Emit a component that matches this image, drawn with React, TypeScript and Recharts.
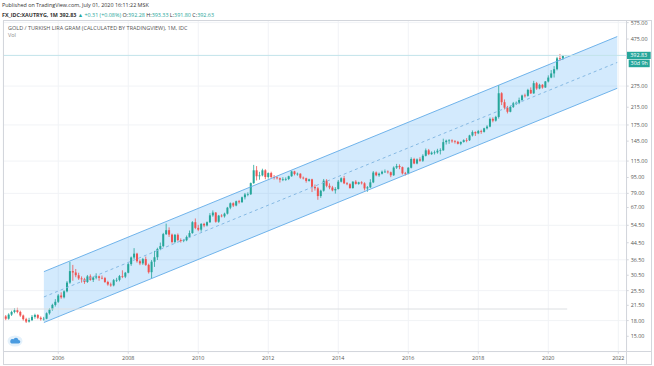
import React from 'react';
import { ComposedChart, Bar, Area, Line, XAxis, YAxis, CartesianGrid, ReferenceLine } from 'recharts';

// monthly candles, first one is July 2004
const START_YEAR = 2004;
const START_MONTH = 6;

const opens = [
  18.9, 18.4, 19.3, 19.9, 20.3, 19.9,
  19.1, 18.3, 17.8, 18.1, 18.8, 19.2, 18.6, 18.3, 18.4, 19.6, 20.5, 21.6,
  22.4, 24.1, 23.6, 25.3, 28.0, 32.0, 31.5, 30.5, 29.4, 29.1, 28.2, 30.1,
  28.9, 29.7, 30.1, 29.6, 29.5, 28.2, 27.4, 27.1, 28.8, 28.9, 30.2, 30.0,
  31.4, 34.7, 37.5, 39.2, 35.9, 35.0, 36.8, 34.4, 31.6, 35.7, 37.6, 41.4,
  42.8, 49.2, 51.5, 48.9, 44.9, 48.8, 45.9, 45.4, 45.8, 47.6, 49.8, 56.5,
  52.9, 51.8, 55.4, 54.4, 56.5, 61.2, 63.2, 56.8, 61.0, 60.5, 62.4, 66.9,
  70.4, 68.6, 72.1, 71.3, 75.5, 78.0, 78.2, 89.0, 103.3, 96.4, 97.4, 103.3,
  95.6, 100.0, 95.4, 95.1, 94.2, 92.7, 93.0, 93.4, 96.4, 102.0, 98.9, 99.3,
  94.8, 94.2, 91.3, 93.0, 85.2, 83.8, 76.6, 81.5, 91.6, 86.3, 84.6, 81.8,
  83.1, 90.5, 94.2, 88.8, 87.9, 84.0, 90.5, 88.2, 89.8, 88.8, 83.7, 84.8,
  89.8, 100.7, 97.5, 99.3, 101.6, 101.8, 101.0, 97.5, 106.6, 108.6, 107.2, 99.7,
  99.6, 106.4, 117.8, 111.8, 117.3, 115.5, 122.3, 130.3, 124.6, 126.9, 127.2, 129.8,
  130.3, 143.3, 145.8, 146.2, 144.7, 143.9, 140.6, 143.6, 146.6, 146.5, 154.9, 161.1,
  158.8, 163.0, 161.5, 168.3, 171.7, 187.8, 184.0, 192.1, 253.0, 228.0, 214.0, 204.0,
  216.0, 225.1, 226.3, 233.9, 246.5, 245.5, 263.0, 252.6, 284.4, 267.4, 279.1, 270.5,
  290.2, 303.6, 318.5, 334.7, 379.7, 379.4, 392.28,
];
const highs = [
  19.2, 19.6, 20.2, 20.8, 20.9, 20.2,
  19.3, 18.6, 18.6, 19.2, 19.5, 19.4, 18.9, 18.8, 19.8, 20.8, 21.9, 23.1,
  24.5, 25.0, 25.6, 28.5, 35.6, 34.4, 32.8, 31.4, 30.1, 29.6, 30.6, 30.8,
  30.1, 31.2, 30.4, 30.4, 29.9, 28.6, 28.0, 29.2, 29.6, 30.6, 32.3, 31.7,
  35.2, 37.9, 41.8, 39.6, 36.6, 37.3, 37.9, 34.9, 36.4, 40.5, 42.0, 44.6,
  49.9, 55.6, 53.2, 49.5, 49.3, 49.6, 46.8, 46.5, 48.4, 51.3, 57.2, 59.0,
  54.8, 55.9, 56.1, 57.0, 62.8, 64.8, 63.6, 61.5, 62.0, 63.1, 67.5, 71.1,
  71.2, 72.6, 73.2, 76.1, 79.4, 79.9, 89.6, 110.0, 108.5, 101.5, 105.2, 104.6,
  100.8, 101.6, 97.8, 96.2, 95.0, 95.3, 95.1, 97.0, 102.8, 102.7, 100.6, 99.8,
  96.1, 94.8, 93.7, 93.6, 87.6, 85.2, 82.4, 93.4, 93.2, 88.8, 86.2, 84.9,
  92.3, 95.2, 96.8, 90.1, 88.9, 91.0, 92.1, 90.4, 91.0, 89.9, 86.0, 93.1,
  102.4, 101.9, 100.6, 103.0, 104.3, 103.2, 101.8, 108.1, 111.3, 110.7, 107.9, 101.4,
  107.2, 120.1, 119.4, 118.6, 120.2, 124.5, 133.1, 132.4, 128.7, 130.0, 132.6, 133.4,
  149.2, 147.5, 148.4, 148.1, 146.8, 145.5, 144.5, 148.1, 150.2, 156.1, 164.2, 162.5,
  165.1, 165.6, 169.4, 174.5, 190.8, 191.2, 194.6, 278.0, 256.1, 235.4, 218.3, 219.2,
  228.7, 229.8, 240.5, 248.9, 251.8, 266.4, 270.8, 292.3, 288.6, 282.5, 281.3, 291.6,
  311.5, 331.2, 346.7, 386.2, 399.5, 394.8, 393.33,
];
const lows = [
  18.1, 18.2, 19.0, 19.6, 19.6, 18.8,
  18.0, 17.5, 17.6, 17.9, 18.4, 18.3, 18.0, 18.0, 18.3, 19.3, 20.2, 21.2,
  22.1, 23.2, 23.3, 25.0, 27.6, 28.6, 29.8, 28.9, 28.0, 27.6, 27.9, 28.6,
  28.2, 29.1, 28.6, 29.1, 27.9, 27.0, 26.7, 26.8, 28.2, 28.4, 29.5, 29.5,
  31.2, 34.0, 36.8, 35.3, 34.3, 34.4, 34.0, 31.1, 29.4, 33.6, 36.4, 40.8,
  42.2, 48.7, 47.6, 44.1, 44.2, 45.2, 44.6, 44.8, 45.3, 47.1, 49.4, 52.1,
  50.9, 50.6, 53.3, 53.8, 56.0, 60.2, 56.2, 56.1, 59.8, 59.6, 61.8, 65.7,
  67.4, 68.0, 70.1, 70.8, 73.6, 76.4, 77.5, 88.3, 91.8, 92.6, 96.3, 93.1,
  93.8, 94.6, 92.8, 92.9, 89.6, 91.1, 91.4, 92.2, 95.8, 97.4, 97.0, 93.6,
  92.9, 89.5, 90.6, 80.2, 81.6, 73.3, 75.0, 80.6, 84.8, 82.9, 80.9, 78.8,
  82.6, 89.7, 88.0, 86.9, 83.5, 83.5, 87.5, 87.3, 87.6, 81.8, 80.5, 84.1,
  89.0, 96.4, 95.8, 98.4, 100.2, 99.4, 95.4, 96.8, 104.9, 104.6, 98.4, 97.3,
  98.6, 105.6, 110.9, 110.8, 114.1, 113.9, 121.4, 123.2, 123.6, 124.1, 125.3, 124.2,
  129.6, 139.4, 140.5, 142.3, 141.0, 139.6, 138.3, 142.5, 143.1, 145.2, 153.1, 154.0,
  157.3, 157.9, 160.2, 166.1, 170.3, 180.4, 182.1, 188.4, 220.5, 209.6, 200.1, 202.7,
  213.2, 220.6, 222.8, 231.4, 240.7, 243.2, 251.1, 251.4, 263.3, 265.0, 266.8, 269.4,
  286.9, 301.3, 303.8, 330.1, 369.2, 372.6, 391.80,
];
const closes = [
  18.4, 19.3, 19.9, 20.3, 19.9, 19.1,
  18.3, 17.8, 18.1, 18.8, 19.2, 18.6, 18.3, 18.4, 19.6, 20.5, 21.6, 22.4,
  24.1, 23.6, 25.3, 28.0, 32.0, 31.5, 30.5, 29.4, 29.1, 28.2, 30.1, 28.9,
  29.7, 30.1, 29.6, 29.5, 28.2, 27.4, 27.1, 28.8, 28.9, 30.2, 30.0, 31.4,
  34.7, 37.5, 39.2, 35.9, 35.0, 36.8, 34.4, 31.6, 35.7, 37.6, 41.4, 42.8,
  49.2, 51.5, 48.9, 44.9, 48.8, 45.9, 45.4, 45.8, 47.6, 49.8, 56.5, 52.9,
  51.8, 55.4, 54.4, 56.5, 61.2, 63.2, 56.8, 61.0, 60.5, 62.4, 66.9, 70.4,
  68.6, 72.1, 71.3, 75.5, 78.0, 78.2, 89.0, 103.3, 96.4, 97.4, 103.3, 95.6,
  100.0, 95.4, 95.1, 94.2, 92.7, 93.0, 93.4, 96.4, 102.0, 98.9, 99.3, 94.8,
  94.2, 91.3, 93.0, 85.2, 83.8, 76.6, 81.5, 91.6, 86.3, 84.6, 81.8, 83.1,
  90.5, 94.2, 88.8, 87.9, 84.0, 90.5, 88.2, 89.8, 88.8, 83.7, 84.8, 89.8,
  100.7, 97.5, 99.3, 101.6, 101.8, 101.0, 97.5, 106.6, 108.6, 107.2, 99.7, 99.6,
  106.4, 117.8, 111.8, 117.3, 115.5, 122.3, 130.3, 124.6, 126.9, 127.2, 129.8, 130.3,
  143.3, 145.8, 146.2, 144.7, 143.9, 140.6, 143.6, 146.6, 146.5, 154.9, 161.1, 158.8,
  163.0, 161.5, 168.3, 171.7, 187.8, 184.0, 192.1, 253.0, 228.0, 214.0, 204.0, 216.0,
  225.1, 226.3, 233.9, 246.5, 245.5, 263.0, 252.6, 284.4, 267.4, 279.1, 270.5, 290.2,
  303.6, 318.5, 334.7, 379.7, 379.4, 392.3, 392.63,
];

// regression channel drawn on the chart (two anchor points)
const channelT = [2005.59, 2021.97];
const channelUpper = [31.8, 489];
const channelMid = [23.7, 362];
const channelLower = [17.6, 268];

const priceTicks = [15, 18, 21.5, 25.5, 30.5, 36.5, 44.5, 54.5, 67, 79, 95, 115, 145, 175, 215, 275, 475, 575];
const yearTicks = [2006, 2008, 2010, 2012, 2014, 2016, 2018, 2020, 2022];

const lastPrice = 392.83;
const countdown = '30d 9h';
const levelLine = 20.6;
const levelEnd = 2020.54;
const X_MIN = 2004.43;
const X_MAX = 2022.24;

const UP = '#26a69a';
const DOWN = '#ef5350';
const FONT = '"Open Sans", "Noto Sans", sans-serif';

const candles = closes.map((c, i) => ({
  t: START_YEAR + (START_MONTH + i) / 12,
  open: opens[i],
  high: highs[i],
  low: lows[i],
  close: c,
  range: [lows[i], highs[i]],
}));

const channel = channelT.map((t, i) => ({
  t,
  band: [channelLower[i], channelUpper[i]],
  upper: channelUpper[i],
  mid: channelMid[i],
  lower: channelLower[i],
}));

const priceLine = [
  { t: X_MIN, p: lastPrice },
  { t: X_MAX, p: lastPrice },
];
const level = [
  { t: X_MIN, p: levelLine },
  { t: levelEnd, p: levelLine },
];

const Candle = (props: any) => {
  const { x, y, width, height, payload } = props;
  if (!payload || height == null) return null;
  const { open, close, high, low } = payload;
  const color = close >= open ? UP : DOWN;
  const span = Math.log(high) - Math.log(low);
  const py = (v: number) => (span > 0 ? y + (height * (Math.log(high) - Math.log(v))) / span : y);
  const cx = x + width / 2;
  const top = py(Math.max(open, close));
  const bot = py(Math.min(open, close));
  return (
    <g>
      <line x1={cx} x2={cx} y1={y} y2={y + height} stroke={color} strokeWidth={0.8} />
      <rect x={cx - 1} y={top} width={2} height={Math.max(bot - top, 0.7)} fill={color} />
    </g>
  );
};

const PriceTag = (props: any) => {
  const vb = props.viewBox;
  if (!vb) return null;
  const left = vb.x + vb.width;
  return (
    <g fontFamily={FONT} fontSize={5.4}>
      <rect x={left} y={vb.y - 3.6} width={24} height={7.2} fill={UP} />
      <text x={left + 12} y={vb.y + 1.9} fill="#fff" textAnchor="middle">{lastPrice.toFixed(2)}</text>
      <rect x={left + 2} y={vb.y + 4.2} width={21} height={7.6} fill={UP} />
      <text x={left + 12.5} y={vb.y + 9.9} fill="#fff" textAnchor="middle">{countdown}</text>
    </g>
  );
};

const Cloud = () => (
  <svg width={16} height={12} style={{ position: 'absolute', left: 7, top: 335 }}>
    <ellipse cx={8} cy={6} rx={7.5} ry={5.5} fill="#e4f1fb" />
    <path d="M4.5 8.5 h7 a1.8 1.8 0 0 0 0-3.6 a2.6 2.6 0 0 0-5-0.6 a1.9 1.9 0 0 0-2 4.2z" fill="#4a9be0" />
  </svg>
);

const frame = '#d3d6dc';

export default function App() {
  return (
    <div style={{ position: 'absolute', left: 0, top: 0, width: 654, height: 366, background: '#fff', fontFamily: FONT, overflow: 'hidden' }}>
      <ComposedChart
        width={654}
        height={366}
        data={candles}
        margin={{ top: 20.7, right: 2, bottom: 0, left: 3.3 }}
        style={{ position: 'absolute', left: 0, top: 0 }}
      >
        <CartesianGrid stroke="#f1f3f6" />
        <XAxis
          type="number"
          dataKey="t"
          domain={[X_MIN, X_MAX]}
          allowDataOverflow
          ticks={yearTicks}
          height={14.3}
          axisLine={false}
          tickSize={2}
          tickLine={{ stroke: frame }}
          tick={{ fontSize: 5.4, fill: '#555', fontFamily: FONT }}
          tickFormatter={(v: number) => String(v)}
        />
        <YAxis
          orientation="right"
          scale="log"
          domain={[12.54, 588]}
          allowDataOverflow
          ticks={priceTicks}
          width={25.3}
          axisLine={false}
          tickSize={2}
          tickLine={{ stroke: frame }}
          tick={{ fontSize: 5.4, fill: '#555', fontFamily: FONT }}
          tickFormatter={(v: number) => v.toFixed(2)}
        />
        <Area
          data={channel}
          dataKey="band"
          type="linear"
          stroke="none"
          fill="#2196f3"
          fillOpacity={0.2}
          isAnimationActive={false}
        />
        <Line data={channel} dataKey="upper" type="linear" stroke="#62abe8" strokeWidth={0.9} dot={false} isAnimationActive={false} />
        <Line data={channel} dataKey="lower" type="linear" stroke="#62abe8" strokeWidth={0.9} dot={false} isAnimationActive={false} />
        <Line data={channel} dataKey="mid" type="linear" stroke="#86b9e3" strokeWidth={1} strokeDasharray="3 3" dot={false} isAnimationActive={false} />
        <Line data={level} dataKey="p" type="linear" stroke="#dcdfe2" strokeWidth={1} dot={false} isAnimationActive={false} />
        <Line data={priceLine} dataKey="p" type="linear" stroke="#c2e4ea" strokeWidth={1} dot={false} isAnimationActive={false} />
        <Bar dataKey="range" barSize={2} shape={<Candle />} isAnimationActive={false} />
        <ReferenceLine y={lastPrice} stroke="#ffffff" strokeOpacity={0} label={<PriceTag />} />
      </ComposedChart>

      <div style={{ position: 'absolute', left: 3, top: 20, width: 649, height: 345, border: `1px solid ${frame}`, boxSizing: 'border-box', pointerEvents: 'none' }} />
      <div style={{ position: 'absolute', left: 626, top: 20, width: 1, height: 345, background: frame }} />
      <div style={{ position: 'absolute', left: 3, top: 351, width: 649, height: 1, background: frame }} />

      <div style={{ position: 'absolute', left: 2, top: 2, fontSize: 5.4, color: '#333', whiteSpace: 'nowrap', lineHeight: '7px' }}>
        Published on TradingView.com, July 01, 2020 16:11:22 MSK
      </div>
      <div style={{ position: 'absolute', left: 2, top: 11.5, fontSize: 5.4, color: '#333', whiteSpace: 'nowrap', lineHeight: '7px' }}>
        <b>FX_IDC:XAUTRYG, 1M</b> <b>392.83</b> <span style={{ color: UP }}>▲ +0.31 (+0.08%)</span> O:<span style={{ color: UP }}>392.28</span> H:<span style={{ color: UP }}>393.33</span> L:<span style={{ color: UP }}>391.80</span> C:<span style={{ color: UP }}>392.63</span>
      </div>
      <div style={{ position: 'absolute', left: 8, top: 25, fontSize: 5.5, color: '#555', whiteSpace: 'nowrap', lineHeight: '7px' }}>
        GOLD / TURKISH LIRA GRAM (CALCULATED BY TRADINGVIEW), 1M, IDC
      </div>
      <div style={{ position: 'absolute', left: 8, top: 32, fontSize: 5.4, color: '#888', whiteSpace: 'nowrap', lineHeight: '7px' }}>
        Vol
      </div>
      <Cloud />
    </div>
  );
}
